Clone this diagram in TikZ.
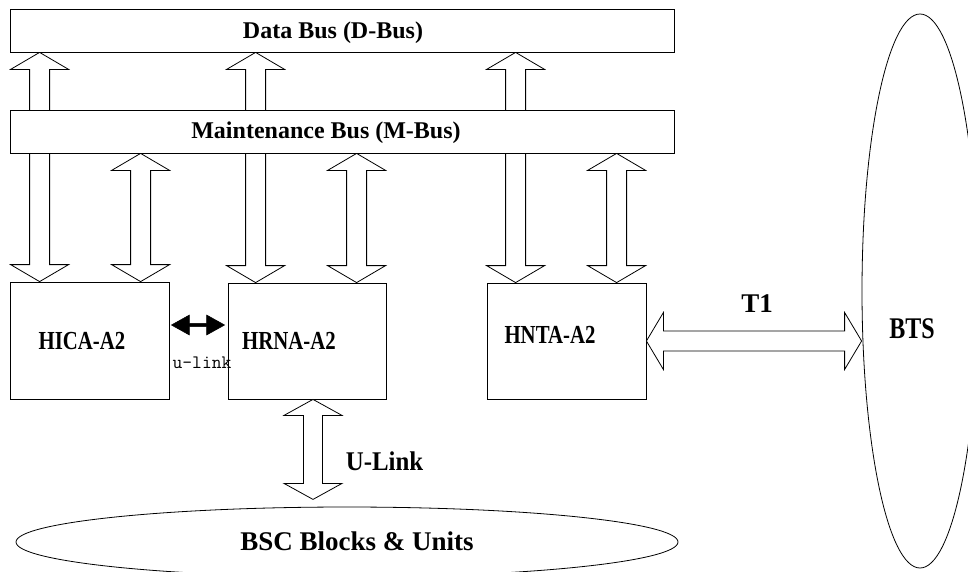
\documentclass[tikz,border=0pt]{standalone}
\usepackage{fontspec}
\setmainfont{Liberation Serif}
\newfontfamily\condfont[FakeStretch=0.8]{Liberation Serif}
\newfontfamily\semicondfont[FakeStretch=0.92]{Liberation Serif}
\usetikzlibrary{calc,shapes.geometric}
\pgfdeclarelayer{back}
\pgfsetlayers{back,main}

% Broad two-headed arrow between two points:
% #1 style, #2 head length, #3 head half width, #4 shaft half width, #5 from, #6 to
\newcommand\fatlink[6]{%
  \path (#5) coordinate (fa) (#6) coordinate (fb);
  \path ($(fa)!#2!(fb)$) coordinate (fp) ($(fb)!#2!(fa)$) coordinate (fq);
  \draw[#1] (fa) -- ($(fp)!#3!90:(fb)$) -- ($(fp)!#4!90:(fb)$)
     -- ($(fq)!#4!-90:(fa)$) -- ($(fq)!#3!-90:(fa)$) -- (fb)
     -- ($(fq)!#3!90:(fa)$) -- ($(fq)!#4!90:(fa)$)
     -- ($(fp)!#4!-90:(fb)$) -- ($(fp)!#3!-90:(fb)$) -- cycle;
}

\tikzset{
  bus/.style={draw, fill=white, line width=0.8pt, inner sep=0pt,
    minimum width=664pt, minimum height=43pt},
  unit/.style={draw, fill=white, line width=0.8pt, inner sep=0pt,
    minimum width=158pt, minimum height=116pt},
  cloud/.style={draw, ellipse, line width=0.8pt, inner sep=0pt},
  fat/.style={draw, fill=white, line width=0.8pt, line join=miter},
  blacklink/.style={draw=black, fill=black, line width=0.5pt, line join=miter},
  lbl/.style={inner sep=0pt, anchor=base},
}

\begin{document}
\begin{tikzpicture}[x=1pt,y=-1pt]
\useasboundingbox (0,0) rectangle (968,571);
\clip (0,0) rectangle (968,571);

% buses
\node[bus] (dbus) at (342,30.5) {};
\node[bus] (mbus) at (342,131.5) {};

% units
\node[unit, minimum width=159pt, minimum height=117pt] (hica) at (89.5,340.5) {};
\node[unit] (hrna) at (307,341) {};
\node[unit, minimum width=159pt] (hnta) at (566.5,341) {};

% outer systems
\node[cloud, minimum width=662pt, minimum height=70pt] (bsc) at (347,542) {};
\node[cloud, minimum width=116pt, minimum height=554pt] (bts) at (920,291) {};

% attachment points on the units
\coordinate (hicaD) at ($(hica.north west)+(30,0)$);
\coordinate (hicaM) at ($(hica.north west)+(131,0)$);
\coordinate (hrnaD) at ($(hrna.north west)+(28,0)$);
\coordinate (hrnaM) at ($(hrna.north west)+(129,0)$);
\coordinate (hntaD) at ($(hnta.north west)+(29,0)$);
\coordinate (hntaM) at ($(hnta.north west)+(130,0)$);
\coordinate (ulTop) at ($(hrna.south)+(6,0)$);
\coordinate (ulEnd) at ($(ulTop)+(0,100)$);
\coordinate (ul1) at ($(hica.east)+(2,-15.5)$);
\coordinate (ul2) at ($(ul1 -| hrna.west)+(-3,0)$);

\begin{pgfonlayer}{back}
  % data bus links (run behind the maintenance bus)
  \fatlink{fat}{17pt}{29pt}{10pt}{dbus.south -| hicaD}{hicaD}
  \fatlink{fat}{17pt}{29pt}{10pt}{dbus.south -| hrnaD}{hrnaD}
  \fatlink{fat}{17pt}{29pt}{10pt}{dbus.south -| hntaD}{hntaD}
  % maintenance bus links
  \fatlink{fat}{17pt}{29pt}{10pt}{mbus.south -| hicaM}{hicaM}
  \fatlink{fat}{17pt}{29pt}{10pt}{mbus.south -| hrnaM}{hrnaM}
  \fatlink{fat}{17pt}{29pt}{10pt}{mbus.south -| hntaM}{hntaM}
\end{pgfonlayer}

% U-Link to the BSC, T1 to the BTS
\fatlink{fat}{16pt}{29pt}{9.5pt}{ulTop}{ulEnd}
\fatlink{fat}{17pt}{28.5pt}{10pt}{hnta.east}{bts.west |- hnta.east}
% internal u-link
\fatlink{blacklink}{18pt}{10pt}{1.6pt}{ul1}{ul2}

% labels
\node[lbl, font=\fontsize{24pt}{24pt}\selectfont\bfseries] (dbuslbl) at (333,38.3) {Data Bus (D-Bus)};
\node[lbl, font=\fontsize{24pt}{24pt}\selectfont\bfseries] (mbuslbl) at (326,138.7) {Maintenance Bus (M-Bus)};
\node[lbl, font=\fontsize{26pt}{26pt}\condfont\bfseries] (hicalbl) at (82,349) {HICA-A2};
\node[lbl, font=\fontsize{26pt}{26pt}\condfont\bfseries] (hrnalbl) at (289,349) {HRNA-A2};
\node[lbl, font=\fontsize{26pt}{26pt}\condfont\bfseries] (hntalbl) at (550,343) {HNTA-A2};
\node[lbl, font=\fontsize{19pt}{19pt}\ttfamily] (ulinklbl) at (202,368) {u-link};
\node[lbl, font=\fontsize{27pt}{27pt}\semicondfont\bfseries] (Ulinklbl) at (384.5,470) {U-Link};
\node[lbl, font=\fontsize{27pt}{27pt}\selectfont\bfseries] (bsclbl) at (357,550) {BSC Blocks \& Units};
\node[lbl, font=\fontsize{27pt}{27pt}\selectfont\bfseries] (t1lbl) at (757,312) {T1};
\node[lbl, font=\fontsize{30pt}{30pt}\condfont\bfseries] (btslbl) at (912,338) {BTS};
\end{tikzpicture}
\end{document}
